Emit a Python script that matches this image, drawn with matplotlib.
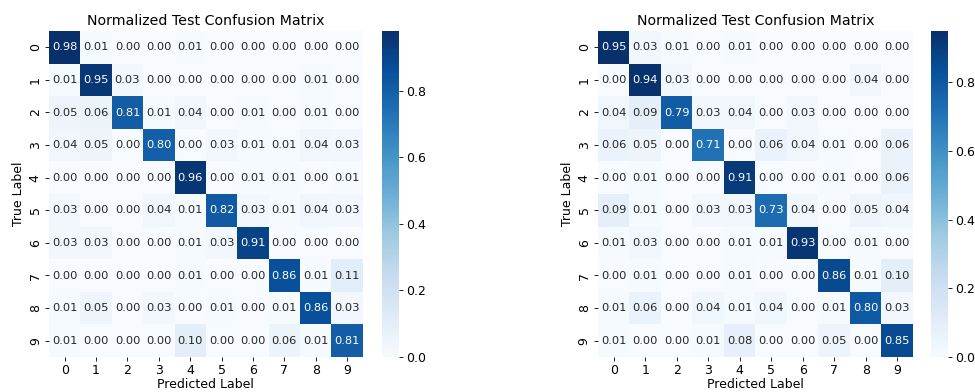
import numpy as np
import matplotlib
matplotlib.use('Agg')
import matplotlib.pyplot as plt
import seaborn as sns

labels = [str(i) for i in range(10)]

# left model, normalized test confusion matrix
cm_left = np.array([
    [0.98, 0.01, 0.00, 0.00, 0.01, 0.00, 0.00, 0.00, 0.00, 0.00],
    [0.01, 0.95, 0.03, 0.00, 0.00, 0.00, 0.00, 0.00, 0.01, 0.00],
    [0.05, 0.06, 0.81, 0.01, 0.04, 0.00, 0.01, 0.00, 0.01, 0.00],
    [0.04, 0.05, 0.00, 0.80, 0.00, 0.03, 0.01, 0.01, 0.04, 0.03],
    [0.00, 0.00, 0.00, 0.00, 0.96, 0.00, 0.01, 0.01, 0.00, 0.01],
    [0.03, 0.00, 0.00, 0.04, 0.01, 0.82, 0.03, 0.01, 0.04, 0.03],
    [0.03, 0.03, 0.00, 0.00, 0.01, 0.03, 0.91, 0.00, 0.00, 0.00],
    [0.00, 0.00, 0.00, 0.00, 0.01, 0.00, 0.00, 0.86, 0.01, 0.11],
    [0.01, 0.05, 0.00, 0.03, 0.00, 0.01, 0.00, 0.01, 0.86, 0.03],
    [0.01, 0.00, 0.00, 0.00, 0.10, 0.00, 0.00, 0.06, 0.01, 0.81],
])

# right model
cm_right = np.array([
    [0.95, 0.03, 0.01, 0.00, 0.01, 0.00, 0.00, 0.00, 0.00, 0.00],
    [0.00, 0.94, 0.03, 0.00, 0.00, 0.00, 0.00, 0.00, 0.04, 0.00],
    [0.04, 0.09, 0.79, 0.03, 0.04, 0.00, 0.03, 0.00, 0.00, 0.00],
    [0.06, 0.05, 0.00, 0.71, 0.00, 0.06, 0.04, 0.01, 0.00, 0.06],
    [0.00, 0.01, 0.00, 0.00, 0.91, 0.00, 0.00, 0.01, 0.00, 0.06],
    [0.09, 0.01, 0.00, 0.03, 0.03, 0.73, 0.04, 0.00, 0.05, 0.04],
    [0.01, 0.03, 0.00, 0.00, 0.01, 0.01, 0.93, 0.00, 0.01, 0.00],
    [0.00, 0.01, 0.00, 0.00, 0.01, 0.00, 0.00, 0.86, 0.01, 0.10],
    [0.01, 0.06, 0.00, 0.04, 0.01, 0.04, 0.00, 0.01, 0.80, 0.03],
    [0.01, 0.00, 0.00, 0.01, 0.08, 0.00, 0.00, 0.05, 0.00, 0.85],
])

fig = plt.figure(figsize=(13, 5.227), dpi=75)

ax1 = fig.add_axes([0.0503, 0.0893, 0.3217, 0.8316])
cax1 = fig.add_axes([0.3918, 0.0893, 0.0175, 0.8316])
ax2 = fig.add_axes([0.6133, 0.0893, 0.3230, 0.8316])
cax2 = fig.add_axes([0.9549, 0.0893, 0.0175, 0.8316])

for ax, cax, cm in [(ax1, cax1, cm_left), (ax2, cax2, cm_right)]:
    sns.heatmap(cm, annot=True, fmt='.2f', cmap='Blues', ax=ax, cbar_ax=cax,
                xticklabels=labels, yticklabels=labels,
                annot_kws={'fontsize': 11})
    ax.set_title('Normalized Test Confusion Matrix', fontsize=13.5)
    ax.set_xlabel('Predicted Label', fontsize=12, labelpad=1)
    ax.set_ylabel('True Label', fontsize=12)
    ax.tick_params(labelsize=12)
    cax.tick_params(labelsize=12)
    cax.set_yticks([0.0, 0.2, 0.4, 0.6, 0.8])

fig.savefig('out.png', dpi=75)
